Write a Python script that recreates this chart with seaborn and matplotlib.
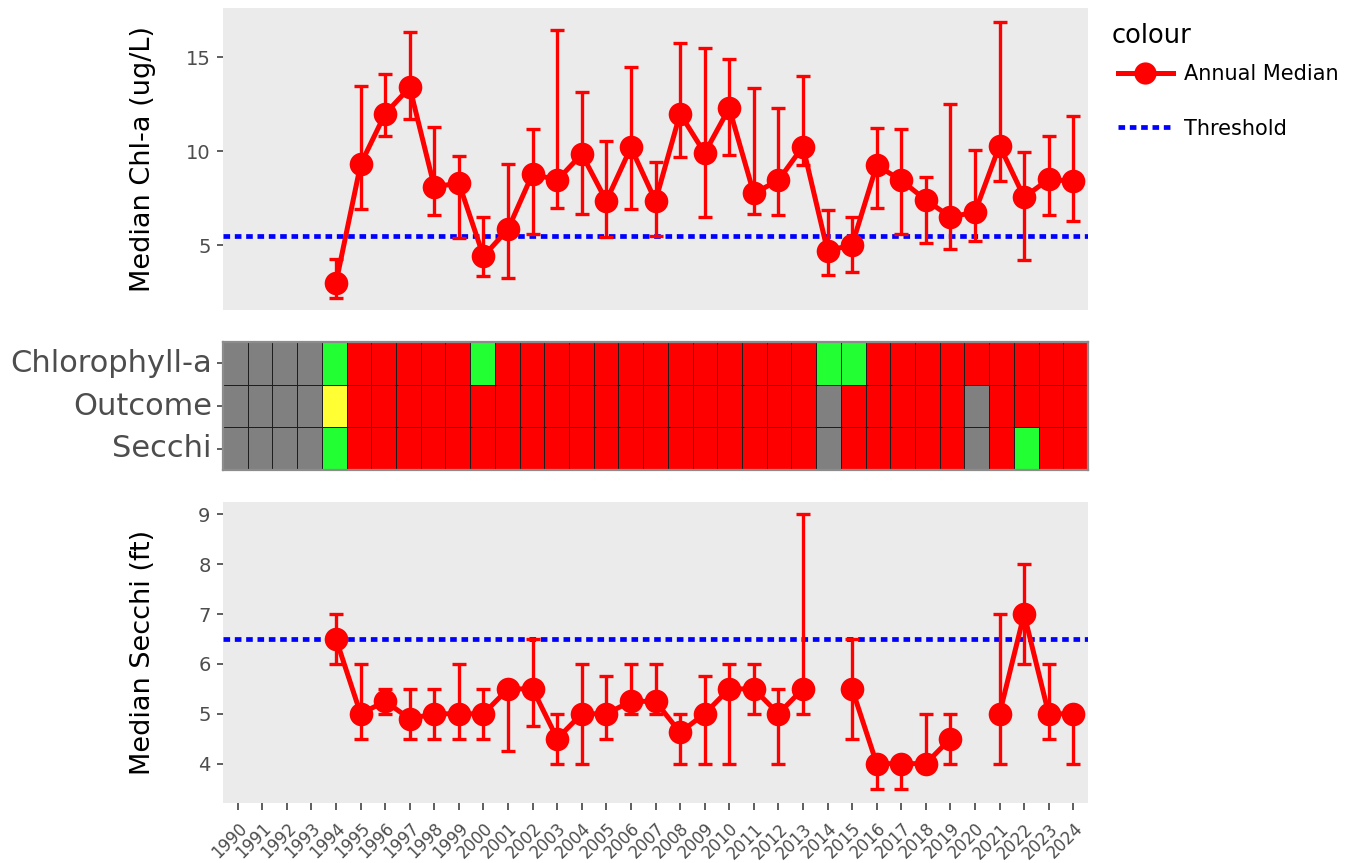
import numpy as np
import pandas as pd
import matplotlib
matplotlib.use("Agg")
import matplotlib.pyplot as plt
import seaborn as sns
from matplotlib.colors import ListedColormap
from matplotlib.lines import Line2D

nan = np.nan

# ---------------- data ----------------
years = list(range(1990, 2025))

chla_median = [nan, nan, nan, nan,
               3.0, 9.3, 12.0, 13.4, 8.1, 8.3, 4.4, 5.85, 8.8, 8.45, 9.85, 7.35,
               10.2, 7.35, 12.0, 9.9, 12.3, 7.75, 8.45, 10.25, 4.7, 5.0, 9.25,
               8.45, 7.4, 6.5, 6.75, 10.3, 7.55, 8.5, 8.4]
chla_low = [nan, nan, nan, nan,
            2.2, 6.9, 10.8, 11.7, 6.6, 5.35, 3.35, 3.25, 5.6, 6.95, 6.65, 5.45,
            6.9, 5.5, 9.7, 6.5, 9.8, 6.65, 6.6, 9.25, 3.4, 3.55, 7.0,
            5.6, 5.1, 4.8, 5.2, 8.4, 4.2, 6.6, 6.3]
chla_high = [nan, nan, nan, nan,
             4.25, 13.5, 14.1, 16.35, 11.3, 9.75, 6.5, 9.3, 11.2, 16.45, 13.15, 10.55,
             14.5, 9.45, 15.75, 15.5, 14.9, 13.35, 12.3, 14.0, 6.85, 6.5, 11.25,
             11.2, 8.6, 12.5, 10.05, 16.9, 9.95, 10.8, 11.85]
chla_threshold = 5.5

secchi_median = [nan, nan, nan, nan,
                 6.5, 5.0, 5.25, 4.9, 5.0, 5.0, 5.0, 5.5, 5.5, 4.5, 5.0, 5.0,
                 5.25, 5.25, 4.625, 5.0, 5.5, 5.5, 5.0, 5.5, nan, 5.5, 4.0,
                 4.0, 4.0, 4.5, nan, 5.0, 7.0, 5.0, 5.0]
secchi_low = [nan, nan, nan, nan,
              6.0, 4.5, 5.0, 4.5, 4.5, 4.5, 4.5, 4.25, 4.75, 4.0, 4.0, 4.5,
              5.0, 5.0, 4.0, 4.0, 4.0, 5.0, 4.0, 5.0, nan, 4.5, 3.5,
              3.5, 4.0, 4.0, nan, 4.0, 6.0, 4.5, 4.0]
secchi_high = [nan, nan, nan, nan,
               7.0, 6.0, 5.5, 5.5, 5.5, 6.0, 5.5, 5.5, 6.5, 5.0, 6.0, 5.75,
               6.0, 6.0, 5.0, 5.75, 6.0, 6.0, 5.5, 9.0, nan, 6.5, 4.0,
               4.0, 5.0, 5.0, nan, 7.0, 8.0, 6.0, 5.0]
secchi_threshold = 6.5

status_rows = ["Chlorophyll-a", "Outcome", "Secchi"]
chl_status = (["NA"] * 4 + ["Good"] + ["Poor"] * 5 + ["Good"] + ["Poor"] * 13
              + ["Good", "Good"] + ["Poor"] * 9)
outcome_status = (["NA"] * 4 + ["Mixed"] + ["Poor"] * 19 + ["NA"] + ["Poor"] * 5
                  + ["NA"] + ["Poor"] * 4)
secchi_status = (["NA"] * 4 + ["Good"] + ["Poor"] * 19 + ["NA"] + ["Poor"] * 5
                 + ["NA"] + ["Poor", "Good", "Poor", "Poor"])

status_codes = {"NA": 0, "Poor": 1, "Mixed": 2, "Good": 3}
status_colors = ["#808080", "#FF0000", "#FFFF33", "#22FF33"]

# ---------------- figure ----------------
W, H = 1362, 863
fig = plt.figure(figsize=(W / 100, H / 100), dpi=100)

def box(l, t, r, b):
    return [l / W, 1 - b / H, (r - l) / W, (b - t) / H]

ax1 = fig.add_axes(box(223, 8, 1088, 310))
axh = fig.add_axes(box(223, 342, 1088, 470))
ax2 = fig.add_axes(box(223, 502, 1088, 803))

RED = "#FF0000"
BLUE = "#0000FF"
PANEL = "#EBEBEB"
TICKC = "#4D4D4D"
XL = (1989.4, 2024.6)


def draw_series(ax, med, low, high, thr, ylim, yticks, ylabel):
    df = pd.DataFrame({"year": years, "value": med})
    df["seg"] = np.cumsum(df["value"].isna())
    df = df.dropna()
    ax.set_facecolor(PANEL)
    ax.axhline(thr, color=BLUE, lw=3.4, dashes=(1.4, 1.0), zorder=1)
    m = np.array(med)
    ax.errorbar(years, m, yerr=[m - np.array(low), np.array(high) - m],
                fmt="none", ecolor=RED, elinewidth=2.4, capsize=4.8,
                capthick=2.4, zorder=2)
    sns.lineplot(data=df, x="year", y="value", units="seg", estimator=None,
                 color=RED, lw=3.6, marker="o", markersize=17,
                 markeredgewidth=0, ax=ax, zorder=3, legend=False)
    ax.set_xlim(*XL)
    ax.set_ylim(*ylim)
    ax.set_yticks(yticks)
    ax.set_yticklabels([str(t) for t in yticks])
    for s in ax.spines.values():
        s.set_visible(False)
    ax.tick_params(axis="y", length=4, width=1.1, color="#333333",
                   labelsize=14, labelcolor=TICKC, pad=5)
    ax.set_ylabel(ylabel, fontsize=19.5, color="black")
    ax.yaxis.set_label_coords(-0.078, 0.5)
    ax.set_xlabel("")


draw_series(ax1, chla_median, chla_low, chla_high, chla_threshold,
            (1.54, 17.63), [5, 10, 15], "Median Chl-a (ug/L)")
ax1.set_xticks([])

draw_series(ax2, secchi_median, secchi_low, secchi_high, secchi_threshold,
            (3.21, 9.25), [4, 5, 6, 7, 8, 9], "Median Secchi (ft)")
ax2.set_xticks(years)
ax2.set_xticklabels([str(y) for y in years], rotation=45, ha="right",
                    rotation_mode="anchor")
ax2.tick_params(axis="x", length=5, width=1.1, color="#333333",
                labelsize=12, labelcolor=TICKC, pad=7)

# ---------------- status heatmap ----------------
hm = pd.DataFrame(
    [[status_codes[s] for s in chl_status],
     [status_codes[s] for s in outcome_status],
     [status_codes[s] for s in secchi_status]],
    index=status_rows, columns=years)
sns.heatmap(hm, ax=axh, cmap=ListedColormap(status_colors), vmin=-0.5,
            vmax=3.5, cbar=False, linewidths=0.7, linecolor="#1e1e1e",
            xticklabels=False, yticklabels=status_rows)
axh.set_xlim(0, len(years))
axh.set_xlabel("")
axh.set_ylabel("")
for s in axh.spines.values():
    s.set_visible(True)
    s.set_color("#8c8c8c")
    s.set_linewidth(1.6)
axh.tick_params(axis="y", length=4, width=1.1, color="#333333",
                labelsize=22, labelcolor=TICKC, pad=4, rotation=0)
axh.tick_params(axis="x", length=0)

# ---------------- legend ----------------
fig.text(1112 / W, 1 - 36 / H, "colour", fontsize=18.5, color="black",
         ha="left", va="center")
handles = [
    Line2D([], [], color=RED, lw=3.6, marker="o", markersize=16,
           markeredgewidth=0),
    Line2D([], [], color=BLUE, lw=3.4, dashes=(1.4, 1.0)),
]
leg = fig.legend(handles, ["Annual Median", "Threshold"],
                 loc="upper left", bbox_to_anchor=(1110 / W, 1 - 56 / H),
                 frameon=False, fontsize=15,
                 handlelength=2.6, labelspacing=1.65, handletextpad=0.55,
                 borderaxespad=0)

fig.savefig("out.png", dpi=100)
